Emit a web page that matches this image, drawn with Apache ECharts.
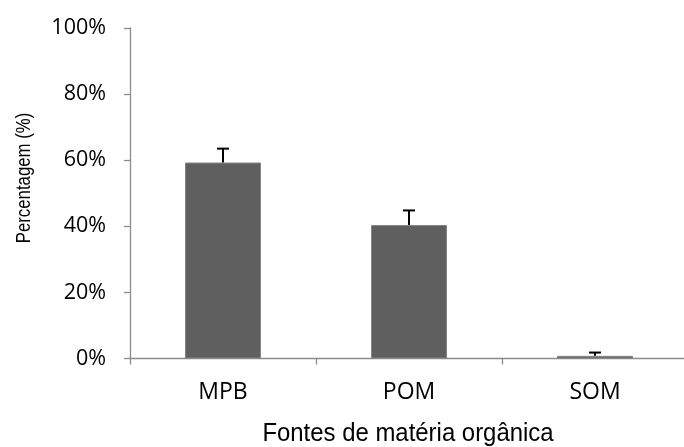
<!DOCTYPE html>
<html>
<head>
<meta charset="utf-8">
<script src="https://cdn.jsdelivr.net/npm/echarts@6/dist/echarts.min.js"></script>
<style>
html,body{margin:0;padding:0;background:#fff;}
#chart{width:684px;height:447px;}
</style>
</head>
<body>
<div id="chart"></div>
<script>
const categories = ['MPB', 'POM', 'SOM'];
const values = [59.3, 40.4, 0.8];
const errorTop = [63.5, 44.8, 1.8];
const yTicks = [0, 20, 40, 60, 80, 100];
const xTitle = 'Fontes de matéria orgânica';
const yTitle = 'Percentagem (%)';

const chart = echarts.init(document.getElementById('chart'));
const errData = categories.map((c, i) => [i, values[i], errorTop[i]]);

chart.setOption({
  animation: false,
  backgroundColor: '#ffffff',
  grid: { left: 130, right: -4, top: 28, bottom: 88.5, containLabel: false, outerBoundsMode: 'none' },
  xAxis: {
    type: 'category',
    data: categories,
    axisLine: { lineStyle: { color: '#8c8c8c', width: 1.3 } },
    axisTick: { show: true, length: 6, alignWithLabel: false, lineStyle: { color: '#8c8c8c', width: 1.3 } },
    axisLabel: { fontFamily: 'Open Sans', fontSize: 23, color: '#000', margin: 22 }
  },
  yAxis: {
    type: 'value',
    min: 0, max: 100, interval: 20,
    axisLine: { show: true, lineStyle: { color: '#8c8c8c', width: 1.3 } },
    axisTick: { show: true, length: 6, lineStyle: { color: '#8c8c8c', width: 1.3 } },
    splitLine: { show: false },
    axisLabel: {
      fontFamily: 'Open Sans', fontSize: 21.5, color: '#000', margin: 24,
      formatter: v => yTicks.includes(v) ? v + '%' : ''
    }
  },
  graphic: [
    {
      type: 'text',
      x: 408, y: 434,
      scaleX: 0.92,
      style: {
        text: xTitle,
        font: '26px "Liberation Sans"',
        fill: '#000',
        textAlign: 'center',
        textVerticalAlign: 'middle'
      }
    },
    {
      type: 'text',
      x: 25, y: 178,
      rotation: Math.PI / 2,
      scaleX: 0.86,
      style: {
        text: yTitle,
        font: '19.5px "Liberation Sans"',
        fill: '#000',
        textAlign: 'center',
        textVerticalAlign: 'middle'
      }
    }
  ],
  series: [
    {
      type: 'bar',
      data: values,
      barWidth: 76,
      itemStyle: { color: '#5f5f5f', borderColor: '#858585', borderWidth: 1 }
    },
    {
      type: 'custom',
      data: errData,
      z: 5,
      renderItem: function (params, api) {
        const x = api.value(0);
        const lo = api.coord([x, api.value(1)]);
        const hi = api.coord([x, api.value(2)]);
        const hw = 6;
        return {
          type: 'group',
          children: [
            { type: 'line', shape: { x1: lo[0], y1: lo[1], x2: hi[0], y2: hi[1] }, style: { stroke: '#000', lineWidth: 2 } },
            { type: 'line', shape: { x1: hi[0] - hw, y1: hi[1], x2: hi[0] + hw, y2: hi[1] }, style: { stroke: '#000', lineWidth: 2 } }
          ]
        };
      }
    }
  ]
});
</script>
</body>
</html>
